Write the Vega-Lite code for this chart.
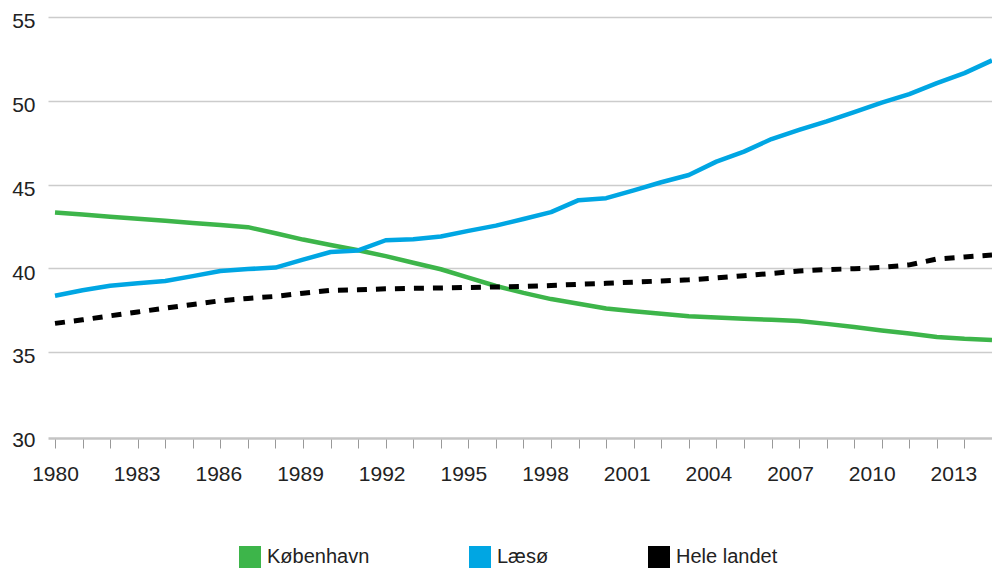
{
  "$schema": "https://vega.github.io/schema/vega-lite/v6.json",
  "width": 944,
  "height": 419,
  "autosize": {"type": "none"},
  "padding": {"left": 48, "top": 17, "right": 0, "bottom": 133},
  "background": "white",
  "config": {"view": {"stroke": null}, "font": "Liberation Sans"},
  "datasets": {
    "rows": [
      {"series": "København", "year": 1980, "value": 43.33},
      {"series": "København", "year": 1981, "value": 43.21},
      {"series": "København", "year": 1982, "value": 43.08},
      {"series": "København", "year": 1983, "value": 42.96},
      {"series": "København", "year": 1984, "value": 42.84},
      {"series": "København", "year": 1985, "value": 42.71},
      {"series": "København", "year": 1986, "value": 42.59},
      {"series": "København", "year": 1987, "value": 42.46},
      {"series": "København", "year": 1988, "value": 42.1},
      {"series": "København", "year": 1989, "value": 41.72},
      {"series": "København", "year": 1990, "value": 41.4},
      {"series": "København", "year": 1991, "value": 41.08},
      {"series": "København", "year": 1992, "value": 40.73},
      {"series": "København", "year": 1993, "value": 40.34},
      {"series": "København", "year": 1994, "value": 39.95},
      {"series": "København", "year": 1995, "value": 39.45},
      {"series": "København", "year": 1996, "value": 38.95},
      {"series": "København", "year": 1997, "value": 38.54},
      {"series": "København", "year": 1998, "value": 38.17},
      {"series": "København", "year": 1999, "value": 37.89},
      {"series": "København", "year": 2000, "value": 37.61},
      {"series": "København", "year": 2001, "value": 37.44},
      {"series": "København", "year": 2002, "value": 37.29},
      {"series": "København", "year": 2003, "value": 37.14},
      {"series": "København", "year": 2004, "value": 37.07},
      {"series": "København", "year": 2005, "value": 37.0},
      {"series": "København", "year": 2006, "value": 36.93},
      {"series": "København", "year": 2007, "value": 36.86},
      {"series": "København", "year": 2008, "value": 36.69},
      {"series": "København", "year": 2009, "value": 36.5},
      {"series": "København", "year": 2010, "value": 36.3},
      {"series": "København", "year": 2011, "value": 36.11},
      {"series": "København", "year": 2012, "value": 35.91},
      {"series": "København", "year": 2013, "value": 35.8},
      {"series": "København", "year": 2014, "value": 35.73},
      {"series": "Læsø", "year": 1980, "value": 38.37},
      {"series": "Læsø", "year": 1981, "value": 38.7},
      {"series": "Læsø", "year": 1982, "value": 38.97},
      {"series": "Læsø", "year": 1983, "value": 39.11},
      {"series": "Læsø", "year": 1984, "value": 39.25},
      {"series": "Læsø", "year": 1985, "value": 39.54},
      {"series": "Læsø", "year": 1986, "value": 39.84},
      {"series": "Læsø", "year": 1987, "value": 39.96},
      {"series": "Læsø", "year": 1988, "value": 40.05},
      {"series": "Læsø", "year": 1989, "value": 40.52},
      {"series": "Læsø", "year": 1990, "value": 40.98},
      {"series": "Læsø", "year": 1991, "value": 41.07},
      {"series": "Læsø", "year": 1992, "value": 41.68},
      {"series": "Læsø", "year": 1993, "value": 41.74},
      {"series": "Læsø", "year": 1994, "value": 41.9},
      {"series": "Læsø", "year": 1995, "value": 42.24},
      {"series": "Læsø", "year": 1996, "value": 42.55},
      {"series": "Læsø", "year": 1997, "value": 42.95},
      {"series": "Læsø", "year": 1998, "value": 43.36},
      {"series": "Læsø", "year": 1999, "value": 44.07},
      {"series": "Læsø", "year": 2000, "value": 44.19},
      {"series": "Læsø", "year": 2001, "value": 44.66},
      {"series": "Læsø", "year": 2002, "value": 45.14},
      {"series": "Læsø", "year": 2003, "value": 45.57},
      {"series": "Læsø", "year": 2004, "value": 46.37},
      {"series": "Læsø", "year": 2005, "value": 46.97},
      {"series": "Læsø", "year": 2006, "value": 47.72},
      {"series": "Læsø", "year": 2007, "value": 48.26},
      {"series": "Læsø", "year": 2008, "value": 48.77},
      {"series": "Læsø", "year": 2009, "value": 49.33},
      {"series": "Læsø", "year": 2010, "value": 49.89},
      {"series": "Læsø", "year": 2011, "value": 50.4},
      {"series": "Læsø", "year": 2012, "value": 51.05},
      {"series": "Læsø", "year": 2013, "value": 51.65},
      {"series": "Læsø", "year": 2014, "value": 52.41},
      {"series": "Hele landet", "year": 1980, "value": 36.72},
      {"series": "Hele landet", "year": 1981, "value": 36.93},
      {"series": "Hele landet", "year": 1982, "value": 37.17},
      {"series": "Hele landet", "year": 1983, "value": 37.4},
      {"series": "Hele landet", "year": 1984, "value": 37.63},
      {"series": "Hele landet", "year": 1985, "value": 37.85},
      {"series": "Hele landet", "year": 1986, "value": 38.07},
      {"series": "Hele landet", "year": 1987, "value": 38.21},
      {"series": "Hele landet", "year": 1988, "value": 38.33},
      {"series": "Hele landet", "year": 1989, "value": 38.52},
      {"series": "Hele landet", "year": 1990, "value": 38.69},
      {"series": "Hele landet", "year": 1991, "value": 38.72},
      {"series": "Hele landet", "year": 1992, "value": 38.78},
      {"series": "Hele landet", "year": 1993, "value": 38.81},
      {"series": "Hele landet", "year": 1994, "value": 38.83},
      {"series": "Hele landet", "year": 1995, "value": 38.86},
      {"series": "Hele landet", "year": 1996, "value": 38.89},
      {"series": "Hele landet", "year": 1997, "value": 38.92},
      {"series": "Hele landet", "year": 1998, "value": 38.98},
      {"series": "Hele landet", "year": 1999, "value": 39.05},
      {"series": "Hele landet", "year": 2000, "value": 39.11},
      {"series": "Hele landet", "year": 2001, "value": 39.18},
      {"series": "Hele landet", "year": 2002, "value": 39.25},
      {"series": "Hele landet", "year": 2003, "value": 39.32},
      {"series": "Hele landet", "year": 2004, "value": 39.43},
      {"series": "Hele landet", "year": 2005, "value": 39.56},
      {"series": "Hele landet", "year": 2006, "value": 39.7},
      {"series": "Hele landet", "year": 2007, "value": 39.84},
      {"series": "Hele landet", "year": 2008, "value": 39.93},
      {"series": "Hele landet", "year": 2009, "value": 39.98},
      {"series": "Hele landet", "year": 2010, "value": 40.06},
      {"series": "Hele landet", "year": 2011, "value": 40.21},
      {"series": "Hele landet", "year": 2012, "value": 40.56},
      {"series": "Hele landet", "year": 2013, "value": 40.68},
      {"series": "Hele landet", "year": 2014, "value": 40.8}
    ]
  },
  "data": {"name": "rows"},
  "encoding": {
    "x": {
      "field": "year",
      "type": "quantitative",
      "scale": {"domain": [1979.746, 2014], "nice": false, "zero": false},
      "axis": {
        "title": null,
        "values": [1980, 1981, 1982, 1983, 1984, 1985, 1986, 1987, 1988, 1989, 1990, 1991, 1992, 1993, 1994, 1995, 1996, 1997, 1998, 1999, 2000, 2001, 2002, 2003, 2004, 2005, 2006, 2007, 2008, 2009, 2010, 2011, 2012, 2013],
        "format": "d",
        "labelExpr": "(datum.value - 1980) % 3 === 0 ? datum.label : ''",
        "labelOffset": {"expr": "-0.335 * (datum.value - 1980)"},
        "labelFont": "Liberation Sans",
        "labelFontSize": 21,
        "labelColor": "#222222",
        "labelPadding": 15,
        "labelOverlap": false,
        "labelFlush": false,
        "labelBound": false,
        "offset": 2,
        "tickSize": 10,
        "tickColor": "#999999",
        "tickWidth": 1,
        "domainColor": "#c4c4c4",
        "domainWidth": 2.6,
        "grid": false
      }
    },
    "y": {
      "field": "value",
      "type": "quantitative",
      "scale": {"domain": [30, 55], "nice": false, "zero": false},
      "axis": {
        "title": null,
        "values": [30, 35, 40, 45, 50, 55],
        "grid": true,
        "gridColor": "#cccccc",
        "gridWidth": 1.3,
        "gridOpacity": {"condition": {"test": "datum.value === 30", "value": 0}, "value": 1},
        "domain": false,
        "ticks": false,
        "labelFont": "Liberation Sans",
        "labelFontSize": 21,
        "labelColor": "#222222",
        "labelPadding": 13,
        "labelOffset": 4.6
      }
    },
    "color": {
      "field": "series",
      "type": "nominal",
      "scale": {"domain": ["København", "Læsø", "Hele landet"], "range": ["#3db54a", "#00a6e3", "#000000"]},
      "legend": {
        "title": null,
        "orient": "none",
        "legendX": 191,
        "legendY": 529,
        "direction": "horizontal",
        "padding": 0,
        "symbolType": "square",
        "symbolSize": 484,
        "labelFont": "Liberation Sans",
        "labelFontSize": 20,
        "labelColor": "#222222",
        "labelOffset": 6,
        "columnPadding": 99,
        "encode": {
          "symbols": {
            "update": {
              "fill": {"scale": "color", "field": "value"},
              "fillOpacity": {"value": 1},
              "stroke": {"value": "transparent"},
              "strokeWidth": {"value": 0}
            }
          }
        }
      }
    }
  },
  "layer": [
    {
      "transform": [{"filter": "datum.series !== 'Hele landet'"}],
      "mark": {"type": "line", "strokeWidth": 4.5, "strokeJoin": "round"}
    },
    {
      "transform": [{"filter": "datum.series === 'Hele landet'"}],
      "mark": {"type": "line", "strokeWidth": 5, "strokeDash": [10, 9], "strokeCap": "butt"}
    }
  ]
}
